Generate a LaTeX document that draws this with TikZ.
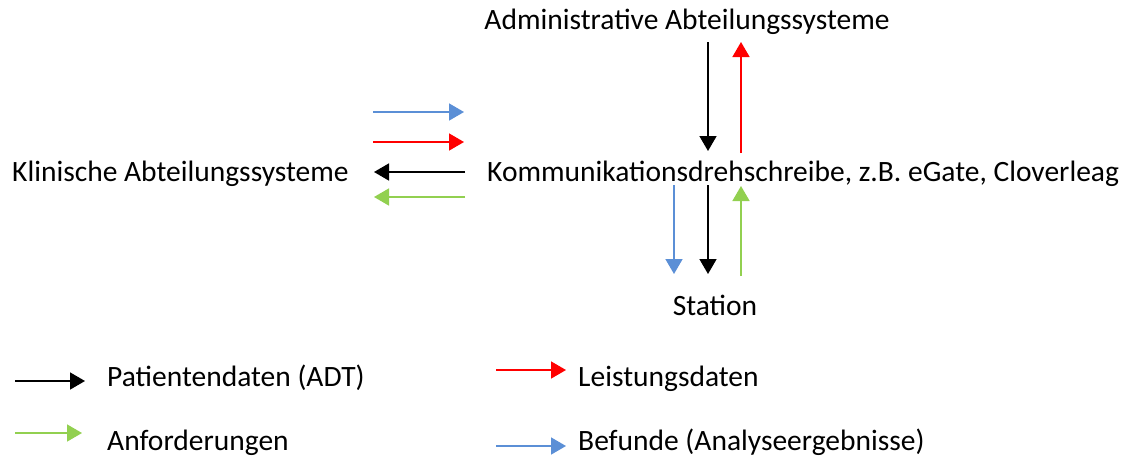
\documentclass[tikz,border=0pt]{standalone}
\usepackage{fontspec}
\setmainfont{Carlito}
\usetikzlibrary{arrows.meta}
\definecolor{fblue}{HTML}{5B8FD6}
\definecolor{fred}{HTML}{FF0000}
\definecolor{fgreen}{HTML}{92D050}
\tikzset{
  lbl/.style={inner sep=0pt, font=\fontsize{29.5}{34}\selectfont},
  flow/.style={line width=1.6pt, -{Triangle[length=15pt,width=17pt]}},
}
\begin{document}
\begin{tikzpicture}[x=1pt,y=-1pt]
\useasboundingbox (0,0) rectangle (1125,459);
\node[lbl, anchor=base] (adm) at (687,29) {Administrative Abteilungssysteme};
\node[lbl, anchor=base west] (kli) at (12,181) {Klinische Abteilungssysteme};
\node[lbl, anchor=base west] (kom) at (487,181) {Kommunikationsdrehschreibe, z.B. eGate, Cloverleag};
\node[lbl, anchor=base] (sta) at (715,315) {Station};
\node[lbl, anchor=base west] (l1) at (107,386) {Patientendaten (ADT)};
\node[lbl, anchor=base west] (l2) at (578,386) {Leistungsdaten};
\node[lbl, anchor=base west] (l3) at (107,450) {Anforderungen};
\node[lbl, anchor=base west] (l4) at (578,450) {Befunde (Analyseergebnisse)};
% coordinates
\coordinate (h1a) at (373,112); \coordinate (h1b) at (464,112);
\coordinate (h2a) at (373,142); \coordinate (h2b) at (464,142);
\coordinate (h3a) at (465,172); \coordinate (h3b) at (374,172);
\coordinate (h4a) at (465,197); \coordinate (h4b) at (374,197);
\coordinate (v1a) at (708,42);  \coordinate (v1b) at (708,151);
\coordinate (v2a) at (741,153); \coordinate (v2b) at (741,42);
\coordinate (v3a) at (674,185); \coordinate (v3b) at (674,274);
\coordinate (v4a) at (708,185); \coordinate (v4b) at (708,274);
\coordinate (v5a) at (741,276); \coordinate (v5b) at (741,186);
\coordinate (g1a) at (15,381);  \coordinate (g1b) at (85,381);
\coordinate (g2a) at (496,370); \coordinate (g2b) at (566,370);
\coordinate (g3a) at (15,433);  \coordinate (g3b) at (82,433);
\coordinate (g4a) at (496,446); \coordinate (g4b) at (566,446);
\draw[flow, fblue] (h1a) -- (h1b);
\draw[flow, fred] (h2a) -- (h2b);
\draw[flow, black] (h3a) -- (h3b);
\draw[flow, fgreen] (h4a) -- (h4b);
\draw[flow, black] (v1a) -- (v1b);
\draw[flow, fred] (v2a) -- (v2b);
\draw[flow, fblue] (v3a) -- (v3b);
\draw[flow, black] (v4a) -- (v4b);
\draw[flow, fgreen] (v5a) -- (v5b);
\draw[flow, black] (g1a) -- (g1b);
\draw[flow, fred] (g2a) -- (g2b);
\draw[flow, fgreen] (g3a) -- (g3b);
\draw[flow, fblue] (g4a) -- (g4b);
\end{tikzpicture}
\end{document}
